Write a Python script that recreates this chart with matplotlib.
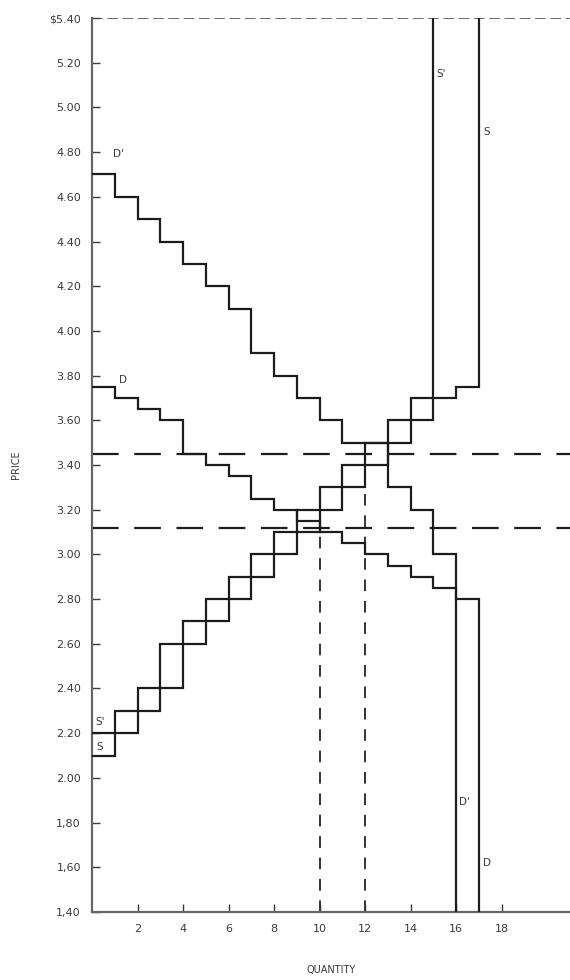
# -*- coding: utf-8 -*-
"""
Stepped supply and demand schedules, before and after the shift.
"""

import matplotlib
matplotlib.use("Agg")
import matplotlib.pyplot as plt

# prices per unit interval [q, q+1)
S_PRICE = [2.10, 2.20, 2.30, 2.40, 2.60, 2.70, 2.80, 2.90, 3.00,
           3.10, 3.20, 3.30, 3.40, 3.50, 3.60, 3.70, 3.75]
S2_PRICE = [2.20, 2.30, 2.40, 2.60, 2.70, 2.80, 2.90, 3.00,
            3.10, 3.20, 3.30, 3.40, 3.50, 3.60, 3.70]
D_PRICE = [3.75, 3.70, 3.65, 3.60, 3.45, 3.40, 3.35, 3.25, 3.20,
           3.15, 3.10, 3.05, 3.00, 2.95, 2.90, 2.85, 2.80]
D2_PRICE = [4.70, 4.60, 4.50, 4.40, 4.30, 4.20, 4.10, 3.90,
            3.80, 3.70, 3.60, 3.50, 3.50, 3.30, 3.20, 3.00]

EQ_Q = [10, 12]
EQ_P = [3.12, 3.45]

Y_TICKS = [5.40, 5.20, 5.00, 4.80, 4.60, 4.40, 4.20, 4.00, 3.80, 3.60, 3.40,
           3.20, 3.00, 2.80, 2.60, 2.40, 2.20, 2.00, 1.80, 1.60, 1.40]
Y_LABELS = ["$5.40", "5.20", "5.00", "4.80", "4.60", "4.40", "4.20", "4.00",
            "3.80", "3.60", "3.40", "3.20", "3.00", "2.80", "2.60", "2.40",
            "2.20", "2.00", "1,80", "1,60", "1,40"]
X_TICKS = [2, 4, 6, 8, 10, 12, 14, 16, 18]

P_MIN, P_MAX = 1.40, 5.40
Q_MAX = 21

LINE = "#1c1c1c"
TEXT = "#3a3a3a"


def step_points(prices, end_price):
    """step outline for a schedule, closed with a vertical at the last unit"""
    xs, ys = [], []
    for q, p in enumerate(prices):
        xs += [q, q + 1]
        ys += [p, p]
    xs.append(len(prices))
    ys.append(end_price)
    return xs, ys


fig = plt.figure(figsize=(5.7, 9.8), dpi=100)
ax = fig.add_axes([0.1614, 0.0694, 0.8386, 0.9122])

for prices, end in [(S_PRICE, P_MAX), (S2_PRICE, P_MAX),
                    (D_PRICE, P_MIN), (D2_PRICE, P_MIN)]:
    xs, ys = step_points(prices, end)
    ax.plot(xs, ys, color=LINE, lw=1.6, solid_joinstyle="miter", zorder=3)

# equilibrium guides
for q, p in zip(EQ_Q, EQ_P):
    ax.plot([0, Q_MAX], [p, p], color=LINE, lw=1.6, dashes=(12, 7), zorder=2)
    ax.plot([q, q], [P_MIN, p], color="#333333", lw=1.4, dashes=(6, 5),
            zorder=2)

# top frame line
ax.plot([0, Q_MAX], [P_MAX, P_MAX], color="#444444", lw=1.1, dashes=(7, 3))

labels = [
    (1.15, 4.79, "D'"), (1.35, 3.78, "D"),
    (15.35, 5.15, "S'"), (17.35, 4.89, "S"),
    (0.35, 2.25, "S'"), (0.35, 2.14, "S"),
    (16.35, 1.89, "D'"), (17.35, 1.62, "D"),
]
for x, y, t in labels:
    ax.text(x, y, t, fontsize=7.5, color=TEXT, ha="center", va="center")

ax.set_xlim(0, Q_MAX)
ax.set_ylim(P_MIN, P_MAX)

ax.set_yticks(Y_TICKS)
ax.set_yticklabels(Y_LABELS)
ax.set_xticks(X_TICKS)
ax.tick_params(axis="both", direction="in", length=6, width=1.0,
               colors=TEXT, labelsize=8)
ax.tick_params(axis="y", pad=8)
ax.tick_params(axis="x", pad=9)

for side in ["top", "right"]:
    ax.spines[side].set_visible(False)
for side in ["left", "bottom"]:
    ax.spines[side].set_color("#666666")
    ax.spines[side].set_linewidth(1.6)

ax.set_ylabel("PRICE", fontsize=7, color=TEXT, labelpad=20)
ax.set_xlabel("QUANTITY", fontsize=7, color=TEXT, labelpad=22)

fig.savefig("out.png", dpi=100)
